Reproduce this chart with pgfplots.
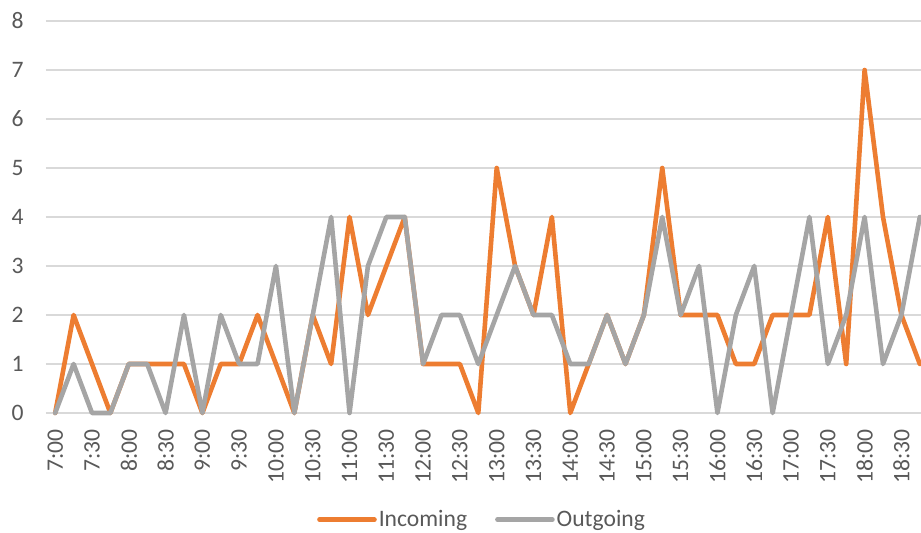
\documentclass[border=0pt]{standalone}
\usepackage{fontspec}
\setmainfont{Carlito}
\usepackage{pgfplots}
\pgfplotsset{compat=1.18}
\definecolor{incolor}{HTML}{ED7D31}
\definecolor{outcolor}{HTML}{A5A5A5}
\definecolor{gridcolor}{HTML}{D9D9D9}
\definecolor{textcolor}{HTML}{595959}

\begin{document}
\begin{tikzpicture}
\begin{axis}[
    at={(23pt,60pt)}, anchor=south west,
    width=441.5pt, height=196pt, scale only axis,
    xmin=-0.5, xmax=47.5, ymin=0, ymax=8,
    clip=false,
    axis line style={draw=none},
    tick style={draw=none},
    ymajorgrids=true,
    grid style={draw=gridcolor, line width=0.6pt},
    ytick={0,1,...,8},
    xtick={0,2,...,46},
    xticklabels={7:00,7:30,8:00,8:30,9:00,9:30,10:00,10:30,11:00,11:30,12:00,12:30,13:00,13:30,14:00,14:30,15:00,15:30,16:00,16:30,17:00,17:30,18:00,18:30},
    font=\fontsize{11.8}{14}\selectfont,
    /pgf/number format/assume math mode=true,
    ticklabel style={text=textcolor},
    xticklabel style={rotate=90, anchor=east, inner xsep=8pt},
    yticklabel style={anchor=east, inner xsep=11pt},
    legend columns=2,
    legend style={at={(0.495,-0.272)}, anchor=center, draw=none, fill=none,
        text=textcolor, font=\fontsize{11.8}{14}\selectfont,
        /tikz/every even column/.append style={column sep=12pt},
        /tikz/every odd column/.append style={column sep=-1pt}},
    legend image code/.code={\draw[#1, line cap=round] (0pt,0pt) -- (27.5pt,0pt);},
    every axis plot/.append style={line width=2.3pt, line join=round, line cap=round},
]
\addplot[incolor] coordinates {
(0,0) (1,2) (2,1) (3,0) (4,1) (5,1) (6,1) (7,1) (8,0) (9,1) (10,1) (11,2)
(12,1) (13,0) (14,2) (15,1) (16,4) (17,2) (18,3) (19,4) (20,1) (21,1) (22,1) (23,0)
(24,5) (25,3) (26,2) (27,4) (28,0) (29,1) (30,2) (31,1) (32,2) (33,5) (34,2) (35,2)
(36,2) (37,1) (38,1) (39,2) (40,2) (41,2) (42,4) (43,1) (44,7) (45,4) (46,2) (47,1)};
\addplot[outcolor] coordinates {
(0,0) (1,1) (2,0) (3,0) (4,1) (5,1) (6,0) (7,2) (8,0) (9,2) (10,1) (11,1)
(12,3) (13,0) (14,2) (15,4) (16,0) (17,3) (18,4) (19,4) (20,1) (21,2) (22,2) (23,1)
(24,2) (25,3) (26,2) (27,2) (28,1) (29,1) (30,2) (31,1) (32,2) (33,4) (34,2) (35,3)
(36,0) (37,2) (38,3) (39,0) (40,2) (41,4) (42,1) (43,2) (44,4) (45,1) (46,2) (47,4)};
\legend{Incoming, Outgoing}
\end{axis}
\pgfresetboundingbox
\path[use as bounding box] (0pt,0pt) rectangle (460.5pt,266.5pt);
\end{tikzpicture}
\end{document}
